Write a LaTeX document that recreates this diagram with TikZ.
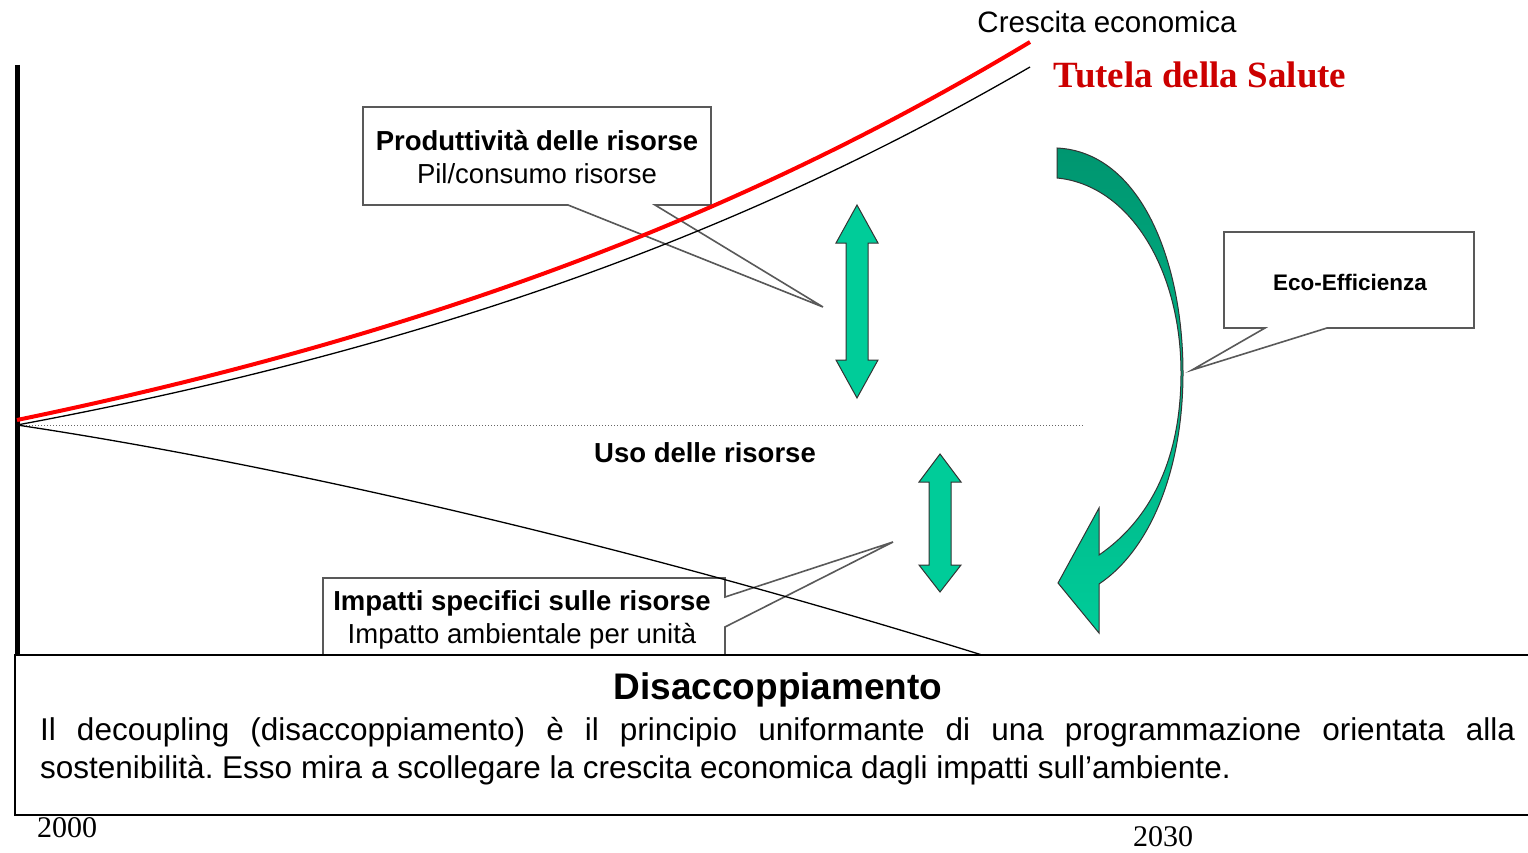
\documentclass[tikz,border=0pt]{standalone}
\usepackage{fontspec}
\setmainfont{Liberation Sans}
\newfontfamily\timesrm{Liberation Serif}
\definecolor{ecogreen}{RGB}{0,204,153}
\definecolor{ecodark}{RGB}{0,150,112}
\definecolor{tutelared}{RGB}{204,0,0}

\begin{document}
\begin{tikzpicture}[x=1pt,y=-1pt,
  callbox/.style={draw=black!65,line width=1.6pt,fill=white,line join=miter},
  dblarrow/.style={draw=black!80,line width=1pt,fill=ecogreen},
  lbl/.style={inner sep=0pt,font=\fontsize{27.5}{33}\selectfont}]
  \clip (0,0) rectangle (1528,853);

  % callouts
  \coordinate (prodtip) at (823,307);
  \coordinate (imptip) at (893,542);
  \coordinate (ecotip) at (1192,370);
  \draw[callbox] (363,107) -- (711,107) -- (711,205) -- (655,205) -- (prodtip)
    -- (568,205) -- (363,205) -- cycle;
  \draw[callbox] (323,665) -- (323,578) -- (725,578) -- (725,597) -- (imptip)
    -- (725,627) -- (725,665);
  \draw[callbox] (1224,232) -- (1474,232) -- (1474,328) -- (1327,328) -- (ecotip)
    -- (1265,328) -- (1224,328) -- cycle;

  \node[lbl,align=center] (prod) at (537,157)
    {\textbf{Produttività delle risorse}\\Pil/consumo risorse};
  \node[lbl,align=center] (impatti) at (522,620)
    {\textbf{Impatti specifici sulle risorse}\\Impatto ambientale per unità};
  \node[lbl,font=\fontsize{22.5}{27}\selectfont\bfseries] (eco) at (1350,282) {Eco-Efficienza};

  % axis and curves
  \draw[line width=5pt] (17,65) -- (17,660);
  \coordinate (orig) at (17,425);
  \coordinate (pilend) at (1030,67);
  \coordinate (redend) at (1030,42);
  \coordinate (impend) at (998,660);
  \coordinate (usoend) at (1083,425);
  \draw[black!60,dotted,line width=1pt] (orig) -- (usoend);
  \draw[line width=1.3pt] (orig) .. controls (500,335) and (800,200) .. (pilend);
  \draw[line width=1.3pt] (orig) .. controls (250,460) and (600,535) .. (impend);
  \draw[red,line width=4pt] (17,420) .. controls (500,320) and (800,180) .. (redend);

  \node[lbl,font=\fontsize{29.5}{34}\selectfont] (crescita) at (1107,22) {Crescita economica};
  \node[inner sep=0pt,text=tutelared,font=\timesrm\bfseries\fontsize{37}{42}\selectfont]
    (tutela) at (1200,75) {Tutela della Salute};
  \node[lbl,font=\fontsize{27.5}{33}\selectfont\bfseries] (uso) at (705,453) {Uso delle risorse};

  % green arrows
  \draw[dblarrow] (857,205) -- (878,243) -- (868,243) -- (868,360) -- (878,360)
    -- (857,398) -- (836,360) -- (846,360) -- (846,243) -- (836,243) -- cycle;
  \draw[dblarrow] (940,454) -- (961,482) -- (951,482) -- (951,565) -- (961,565)
    -- (940,592) -- (919,565) -- (929,565) -- (929,482) -- (919,482) -- cycle;
  \shadedraw[top color=ecodark,bottom color=ecogreen,draw=black!80,line width=1pt]
    (1057,148) .. controls (1140,152) and (1183,260) .. (1183,373)
    .. controls (1183,470) and (1150,550) .. (1099,584) -- (1099,633) -- (1058,583)
    -- (1099,508) -- (1099,555) .. controls (1150,520) and (1181,460) .. (1181,373)
    .. controls (1181,270) and (1130,185) .. (1057,178) -- cycle;

  % text box
  \draw[line width=2pt,fill=white] (15,655) rectangle (1545,815);
  \node[lbl,font=\fontsize{37}{42}\selectfont\bfseries] (dis) at (778,690) {Disaccoppiamento};
  \node[lbl,font=\fontsize{31.5}{38}\selectfont\frenchspacing,text width=1475pt,align=justify,
    anchor=north west] (testo) at (40,717) {Il decoupling (disaccoppiamento) è il principio
    uniformante di una programmazione orientata alla\linebreak sostenibilità. Esso mira a
    scollegare la crescita economica dagli impatti sull’ambiente.};

  \node[inner sep=0pt,font=\timesrm\fontsize{30}{34}\selectfont] (anno1) at (67,828) {2000};
  \node[inner sep=0pt,font=\timesrm\fontsize{30}{34}\selectfont] (anno2) at (1163,837) {2030};
\end{tikzpicture}
\end{document}
